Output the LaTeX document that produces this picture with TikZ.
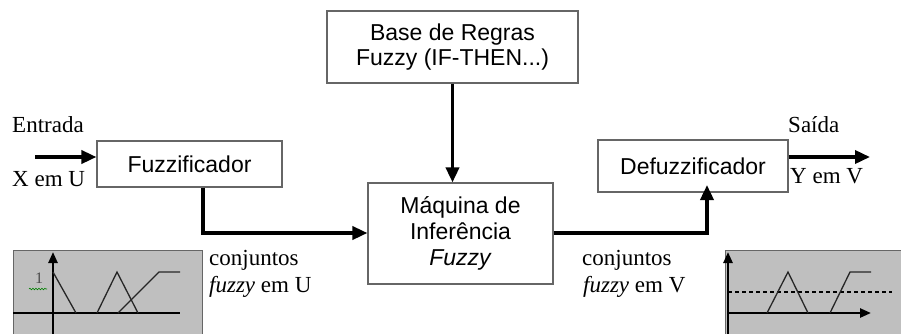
\documentclass[tikz,border=0pt]{standalone}
\usepackage{fontspec}
\setmainfont{Liberation Serif}
\setsansfont{Liberation Sans}
\usetikzlibrary{arrows.meta,decorations.pathmorphing}
\begin{document}
\begin{tikzpicture}[x=1pt,y=-1pt,
  box/.style={draw=black!60, line width=1.1pt, fill=white, font=\sffamily\fontsize{23}{25.7}\selectfont, align=center, inner sep=0pt},
  flow/.style={line width=3.5pt, -{Triangle[length=15pt,width=13pt]}},
  lbl/.style={font=\fontsize{23}{27}\selectfont, inner sep=0pt, anchor=base west},
  panel/.style={fill=black!25, draw=black!60, line width=1pt},
  mf/.style={draw=black!85, line width=1.3pt},
  axis/.style={line width=2.4pt, -{Triangle[length=11pt,width=9pt]}}
]
\clip (0,0) rectangle (901,333);
\fill[white] (0,0) rectangle (901,333);

% boxes
\node[box, minimum width=251pt, minimum height=72pt] (base) at (452.5,47) {Base de Regras\\Fuzzy (IF-THEN...)};
\node[box, minimum width=185pt, minimum height=101pt] (mach) at (460.5,233.5) {Máquina de\\Inferência\\\textit{Fuzzy}};
\node[box, minimum width=185pt, minimum height=46pt] (fuzz) at (189.5,164) {Fuzzificador};
\node[box, minimum width=190pt, minimum height=52pt] (defuzz) at (693,166) {Defuzzificador};

% labels
\node[lbl] (entrada) at (12,132) {Entrada};
\node[lbl] (xemu) at (12,186) {X em U};
\node[lbl] (saida) at (788,132) {Saída};
\node[lbl] (yemv) at (790,183) {Y em V};
\node[lbl] (conjU) at (209,265) {conjuntos};
\node[lbl] (fuzzyU) at (209,292) {\textit{fuzzy} em U};
\node[lbl] (conjV) at (582,265) {conjuntos};
\node[lbl] (fuzzyV) at (583,292) {\textit{fuzzy} em V};

% connectors
\coordinate (xin) at (35,157);
\draw[flow] (xin) -- (xin -| fuzz.west);
\coordinate (c1) at (203,233);
\draw[flow] (c1 |- fuzz.south) -- (c1) -- (c1 -| mach.west);
\draw[flow] (base.south) -- (base.south |- mach.north);
\coordinate (c2) at (707,233);
\coordinate (dtip) at (707,185);
\draw[flow] (mach.east |- c2) -- (c2) -- (dtip);
\coordinate (yout) at (870,157);
\draw[flow] (yout -| defuzz.east) -- (yout);

% left panel
\path[panel] (13,250) rectangle (202,345);
\draw[axis] (53,340) -- (53,252);
\draw[black, line width=1.4pt] (13,313) -- (180,313);
\draw[mf] (53,272) -- (76,313);
\draw[mf] (97,313) -- (117,272) -- (138,313);
\draw[mf] (118,313) -- (159,272) -- (180,272);
\node[font=\fontsize{16}{18}\selectfont, text=black!70, inner sep=0pt, anchor=base] (one) at (39,283) {1};
\draw[green!50!black, line width=0.6pt, decorate, decoration={snake, amplitude=0.8pt, segment length=3pt}] (29,289) -- (47,289);

% right panel
\path[panel] (725,250) rectangle (910,345);
\draw[axis] (728,340) -- (728,252);
\draw[axis] (728,313) -- (871,313);
\draw[black, line width=1.1pt, dash pattern=on 4pt off 3pt] (728,292) -- (892,292);
\draw[mf] (767,313) -- (788,272) -- (808,313);
\draw[mf] (830,313) -- (850,272) -- (871,272);
\end{tikzpicture}
\end{document}
